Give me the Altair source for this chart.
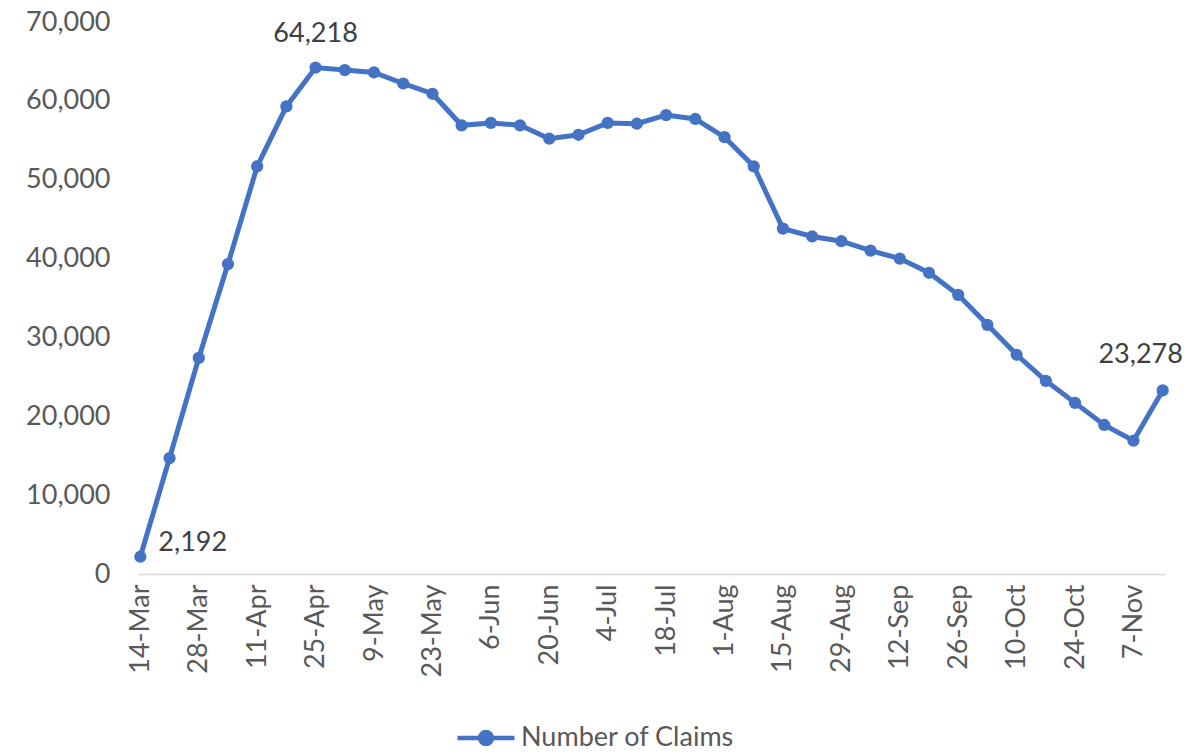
import altair as alt
import pandas as pd

weeks = ["14-Mar", "21-Mar", "28-Mar", "4-Apr", "11-Apr", "18-Apr", "25-Apr", "2-May",
         "9-May", "16-May", "23-May", "30-May", "6-Jun", "13-Jun", "20-Jun", "27-Jun",
         "4-Jul", "11-Jul", "18-Jul", "25-Jul", "1-Aug", "8-Aug", "15-Aug", "22-Aug",
         "29-Aug", "5-Sep", "12-Sep", "19-Sep", "26-Sep", "3-Oct", "10-Oct", "17-Oct",
         "24-Oct", "31-Oct", "7-Nov", "14-Nov"]
claims = [2192, 14700, 27400, 39300, 51700, 59300, 64218, 63900, 63600, 62200, 60900,
          56900, 57200, 56900, 55200, 55700, 57200, 57100, 58200, 57700, 55400, 51700,
          43800, 42800, 42200, 41000, 40000, 38200, 35400, 31600, 27800, 24500, 21700,
          18900, 16900, 23278]
tick_labels = weeks[0::2]
y_ticks = [0, 10000, 20000, 30000, 40000, 50000, 60000, 70000]
series_name = "Number of Claims"

df = pd.DataFrame({"week": weeks, "claims": claims, "series": series_name})

FONT = "Lato"
BLUE = "#4472C4"

x = alt.X("week:O", sort=None, title=None,
          scale=alt.Scale(type="point", padding=0.08),
          axis=alt.Axis(values=tick_labels, labelAngle=270, ticks=False,
                        domainColor="#d9d9d9", domainWidth=1.5, labelPadding=10,
                        labelFont=FONT, labelFontSize=27, labelColor="#595959"))
y = alt.Y("claims:Q", title=None,
          scale=alt.Scale(domain=[0, 70000], nice=False),
          axis=alt.Axis(values=y_ticks, format=",.0f", domain=False, ticks=False,
                        grid=False, labelPadding=28, labelFont=FONT, labelFontSize=27,
                        labelColor="#595959"))

legend_path = ("M-1,0H1M-0.21,0A0.21,0.21,0,1,0,0.21,0"
               "A0.21,0.21,0,1,0,-0.21,0Z")
color = alt.Color("series:N", scale=alt.Scale(range=[BLUE]), title=None,
                  legend=alt.Legend(orient="none", legendX=317, legendY=685,
                                    direction="horizontal",
                                    symbolType=legend_path, symbolSize=3249,
                                    symbolStrokeWidth=4.5, symbolFillColor=BLUE,
                                    symbolStrokeColor=BLUE, labelLimit=500,
                                    labelFont=FONT, labelFontSize=27,
                                    labelColor="#595959", labelOffset=4))

base = alt.Chart(df)
line = base.mark_line(strokeWidth=5).encode(x=x, y=y, color=color)
points = base.mark_point(filled=True, size=150, opacity=1).encode(
    x=x, y=y, color=alt.Color("series:N", legend=None))

def label(week, **kw):
    return base.transform_filter(alt.datum.week == week).mark_text(
        font=FONT, fontSize=27, color="#404040", baseline="middle", **kw
    ).encode(x=x, y=y, text=alt.Text("claims:Q", format=","))

lab_start = label("14-Mar", align="left", dx=18, dy=-14)
lab_peak = label("25-Apr", align="center", dx=0, dy=-34)
lab_end = label("14-Nov", align="center", dx=-22, dy=-35)

chart = alt.layer(line, points, lab_start, lab_peak, lab_end).properties(
    width=1027, height=552,
    autosize=alt.AutoSizeParams(type="none"),
    padding={"left": 130, "top": 14, "right": 25, "bottom": 172},
).configure(background="white").configure_view(stroke=None)

chart.save("out.html", embed_options={"renderer": "svg", "actions": False})
